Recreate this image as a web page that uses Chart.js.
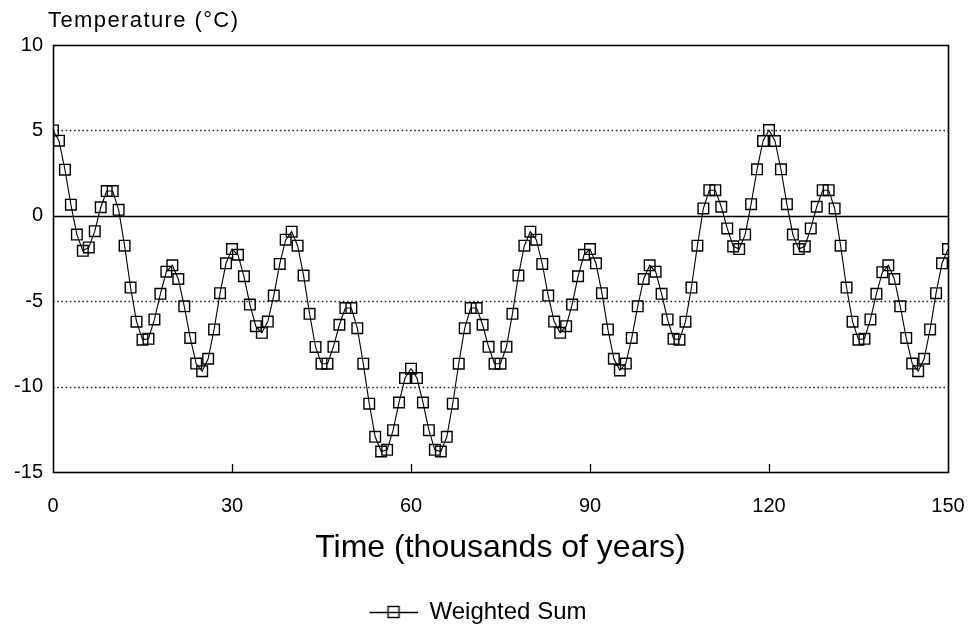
<!DOCTYPE html>
<html>
<head>
<meta charset="utf-8">
<script src="https://cdn.jsdelivr.net/npm/chart.js@4/dist/chart.umd.min.js"></script>
<style>
html,body{margin:0;padding:0;background:#fff;}
#wrap{width:974px;height:634px;}
</style>
</head>
<body>
<div id="wrap"><canvas id="c" width="974" height="634"></canvas></div>
<script>
// ---- data ----
const years = [0,1,2,3,4,5,6,7,8,9,10,11,12,13,14,15,16,17,18,19,20,21,22,23,24,25,26,27,28,29,30,
31,32,33,34,35,36,37,38,39,40,41,42,43,44,45,46,47,48,49,50,51,52,53,54,55,56,57,58,59,60,
61,62,63,64,65,66,67,68,69,70,71,72,73,74,75,76,77,78,79,80,81,82,83,84,85,86,87,88,89,90,
91,92,93,94,95,96,97,98,99,100,101,102,103,104,105,106,107,108,109,110,111,112,113,114,115,116,117,118,119,120,
121,122,123,124,125,126,127,128,129,130,131,132,133,134,135,136,137,138,139,140,141,142,143,144,145,146,147,148,149,150];

const weightedSum = [5.0,4.4,2.7,0.65,-1.1,-2.05,-1.85,-0.9,0.5,1.45,1.45,0.35,-1.75,-4.2,-6.2,-7.25,-7.2,-6.07,-4.57,-3.27,
-2.9,-3.7,-5.3,-7.15,-8.65,-9.1,-8.37,-6.65,-4.53,-2.78,-1.95,-2.28,-3.54,-5.2,-6.46,-6.85,-6.19,-4.67,-2.82,-1.4,
-0.93,-1.75,-3.5,-5.74,-7.68,-8.66,-8.66,-7.67,-6.38,-5.4,-5.4,-6.58,-8.66,-11.0,-12.94,-13.8,-13.7,-12.55,-10.93,-9.5,
-8.95,-9.5,-10.93,-12.55,-13.7,-13.8,-12.94,-11.0,-8.66,-6.58,-5.4,-5.4,-6.38,-7.67,-8.66,-8.66,-7.67,-5.74,-3.5,-1.75,
-0.93,-1.4,-2.82,-4.67,-6.19,-6.85,-6.46,-5.2,-3.54,-2.28,-1.95,-2.78,-4.53,-6.65,-8.37,-9.05,-8.65,-7.15,-5.3,-3.7,
-2.9,-3.27,-4.57,-6.07,-7.2,-7.25,-6.2,-4.2,-1.75,0.43,1.5,1.5,0.53,-0.74,-1.79,-1.95,-1.1,0.68,2.72,4.38,
5.02,4.38,2.72,0.68,-1.1,-1.95,-1.79,-0.74,0.53,1.5,1.5,0.43,-1.75,-4.2,-6.2,-7.25,-7.2,-6.07,-4.57,-3.3,
-2.9,-3.7,-5.3,-7.15,-8.65,-9.1,-8.37,-6.65,-4.53,-2.78,-1.95];

const xTicks = [0, 30, 60, 90, 120, 150];
const yTicks = [10, 5, 0, -5, -10, -15];
const seriesName = 'Weighted Sum';
const yTitle = 'Temperature (\u00B0C)';
const xTitle = 'Time (thousands of years)';

// ---- rendering ----
const FONT = '"Liberation Sans", Arial, Helvetica, sans-serif';

// legend icon: line with hollow square (left 8px blank to shift the item)
const icon = document.createElement('canvas');
icon.width = 56; icon.height = 14;
(function(){
  const g = icon.getContext('2d');
  g.strokeStyle = '#000';
  g.lineWidth = 1.3;
  g.beginPath(); g.moveTo(8, 7.5); g.lineTo(56, 7.5); g.stroke();
  g.clearRect(26, 1, 12, 12);
  g.lineWidth = 1.4;
  g.strokeRect(26.5, 1.5, 11, 11);
  g.beginPath(); g.moveTo(26.5, 7.5); g.lineTo(37.5, 7.5); g.stroke();
})();

const framePlugin = {
  id: 'frame',
  beforeDatasetsDraw(chart) {
    const {ctx, chartArea: a, scales} = chart;
    const y = scales.y, x = scales.x;
    ctx.save();
    yTicks.forEach(v => {
      if (v === 10 || v === -15) return;
      const py = Math.round(y.getPixelForValue(v)) + 0.5;
      ctx.beginPath();
      if (v === 0) { ctx.setLineDash([]); ctx.lineWidth = 1.6; ctx.strokeStyle = '#000'; }
      else { ctx.setLineDash([1.6, 2.6]); ctx.lineWidth = 1.6; ctx.strokeStyle = '#222'; }
      ctx.moveTo(a.left, py); ctx.lineTo(a.right, py); ctx.stroke();
    });
    ctx.setLineDash([]);
    ctx.strokeStyle = '#000';
    ctx.lineWidth = 1.6;
    ctx.strokeRect(Math.round(a.left) + 0.5, Math.round(a.top) + 0.5,
                   Math.round(a.right - a.left), Math.round(a.bottom - a.top));
    ctx.lineWidth = 1.3;
    xTicks.forEach(v => {
      if (v === 0 || v === 150) return;
      const px = Math.round(x.getPixelForValue(v)) + 0.5;
      ctx.beginPath(); ctx.moveTo(px, a.bottom); ctx.lineTo(px, a.bottom - 8); ctx.stroke();
    });
    ctx.fillStyle = '#000';
    ctx.font = '22px ' + FONT;
    try { ctx.letterSpacing = '1.4px'; } catch (e) {}
    ctx.textAlign = 'left';
    ctx.textBaseline = 'middle';
    ctx.fillText(yTitle, a.left - 5, 21);
    ctx.restore();
  }
};

new Chart(document.getElementById('c'), {
  type: 'line',
  data: {
    datasets: [{
      label: seriesName,
      data: years.map((t, i) => ({x: t, y: weightedSum[i]})),
      borderColor: '#000',
      borderWidth: 1.1,
      tension: 0,
      pointStyle: 'rect',
      pointRadius: 7.5,
      pointBorderWidth: 1.4,
      pointBorderColor: '#000',
      pointBackgroundColor: 'rgba(0,0,0,0)',
      fill: false
    }]
  },
  options: {
    responsive: false,
    devicePixelRatio: 1,
    animation: false,
    layout: { padding: { left: 0, right: 26, top: 45, bottom: 0 } },
    plugins: {
      tooltip: { enabled: false },
      title: { display: false },
      legend: {
        display: true,
        position: 'bottom',
        labels: {
          usePointStyle: true,
          pointStyle: icon,
          pointStyleWidth: 56,
          color: '#000',
          padding: 8,
          font: { family: FONT, size: 24 }
        }
      }
    },
    scales: {
      x: {
        type: 'linear',
        min: 0, max: 150,
        afterBuildTicks(s) { s.ticks = xTicks.map(v => ({value: v})); },
        afterFit(s) { s.height = 120; s.paddingLeft = 0; s.paddingRight = 0; },
        grid: { display: false, drawTicks: false },
        border: { display: false },
        ticks: { color: '#000', padding: 22, maxRotation: 0, font: { family: FONT, size: 20 } },
        title: {
          display: true, text: xTitle, color: '#000',
          font: { family: FONT, size: 32 },
          padding: { top: 0, bottom: 25 }
        }
      },
      y: {
        type: 'linear',
        min: -15, max: 10,
        afterBuildTicks(s) { s.ticks = yTicks.map(v => ({value: v})); },
        afterFit(s) { s.width = 53; },
        grid: { display: false, drawTicks: false },
        border: { display: false },
        ticks: { color: '#000', padding: 10, font: { family: FONT, size: 20 } }
      }
    }
  },
  plugins: [framePlugin]
});
</script>
</body>
</html>
